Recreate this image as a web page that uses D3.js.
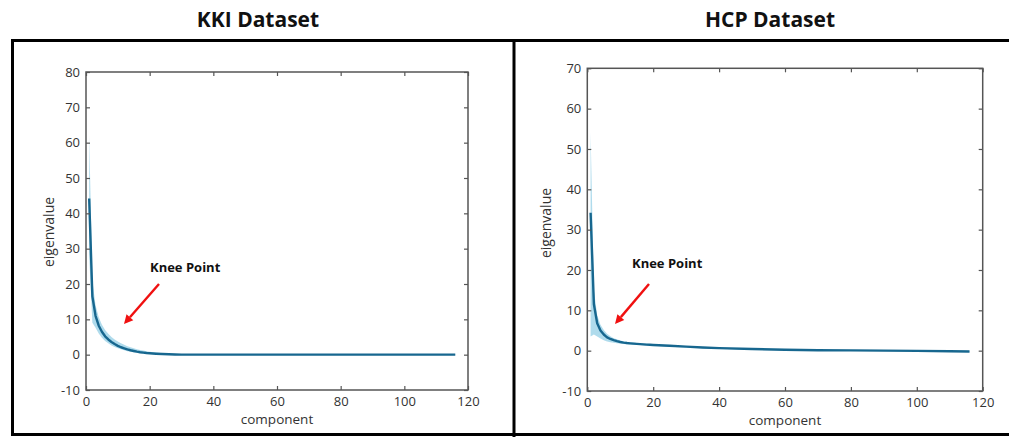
<!DOCTYPE html>
<html>
<head>
<meta charset="utf-8">
<script src="https://cdn.jsdelivr.net/npm/d3@7"></script>
<style>
  html, body { margin: 0; padding: 0; background: #fff; }
  svg { display: block; }
</style>
</head>
<body>
<svg id="chart" width="1009" height="437"></svg>
<script>
// Eigenvalue spectra (mean with spread band) per component, two datasets.
const kkiComponents = [1,2,3,4,5,6,7,8,9,10,11,12,13,14,15,16,17,18,19,20,22,24,26,28,30,40,50,60,70,80,90,100,110,116];
const kkiMean  = [44.2,16.5,11.0,8.2,6.5,5.2,4.3,3.6,3.0,2.5,2.1,1.8,1.5,1.25,1.05,0.85,0.7,0.58,0.48,0.4,0.27,0.17,0.1,0.05,0.02,0,0,0,0,0,0,0,0,0];
const kkiUpper = [62,21,14,10.6,8.5,7.0,5.9,5.0,4.3,3.7,3.2,2.8,2.4,2.1,1.8,1.55,1.35,1.15,1.0,0.85,0.6,0.42,0.28,0.18,0.12,0.08,0.08,0.08,0.08,0.08,0.08,0.08,0.08,0.08];
const kkiLower = [28,9,7.6,6.0,4.8,3.9,3.2,2.6,2.2,1.8,1.5,1.25,1.0,0.85,0.7,0.55,0.45,0.35,0.28,0.22,0.13,0.07,0.03,0.01,0,-0.08,-0.08,-0.08,-0.08,-0.08,-0.08,-0.08,-0.08,-0.08];

const hcpComponents = [1,2,3,4,5,6,7,8,9,10,11,12,13,14,15,16,17,18,19,20,25,30,35,40,50,60,70,80,90,100,110,116];
const hcpMean  = [34.2,11.5,6.8,5.0,4.0,3.3,2.9,2.6,2.35,2.15,2.0,1.9,1.82,1.75,1.68,1.62,1.56,1.5,1.45,1.4,1.2,1.0,0.8,0.62,0.4,0.22,0.12,0.06,0.02,-0.05,-0.15,-0.2];
const hcpUpper = [54,15,8.8,6.4,5.1,4.2,3.6,3.1,2.8,2.55,2.35,2.2,2.1,2.0,1.92,1.84,1.76,1.7,1.64,1.58,1.35,1.12,0.92,0.72,0.5,0.3,0.18,0.1,0.06,0.0,-0.1,-0.15];
const hcpLower = [3.5,4.0,3.5,3.0,2.6,2.3,2.1,1.95,1.85,1.75,1.65,1.58,1.52,1.47,1.42,1.38,1.34,1.3,1.26,1.22,1.0,0.8,0.6,0.45,0.25,0.1,0.03,0,-0.03,-0.1,-0.2,-0.25];

const xTicks = [0,20,40,60,80,100,120];
const kkiYTicks = [-10,0,10,20,30,40,50,60,70,80];
const hcpYTicks = [-10,0,10,20,30,40,50,60,70];

const svg = d3.select("#chart");

// outer frame with divider between the two panels
svg.append("rect")
  .attr("x", 12.5).attr("y", 40.5)
  .attr("width", 1020).attr("height", 394)
  .attr("fill", "none").attr("stroke", "#000").attr("stroke-width", 3);
svg.append("line")
  .attr("x1", 514).attr("x2", 514).attr("y1", 40).attr("y2", 437)
  .attr("stroke", "#000").attr("stroke-width", 3);

function drawPanel(p) {
  const x = d3.scaleLinear().domain([0, 120]).range([p.left, p.right]);
  const y = d3.scaleLinear().domain([p.yTicks[0], p.yTicks[p.yTicks.length - 1]]).range([p.bottom, p.top]);
  const g = svg.append("g");

  // title
  svg.append("text")
    .attr("x", p.titleX).attr("y", 27)
    .attr("text-anchor", "middle")
    .attr("font-family", "Open Sans, sans-serif")
    .attr("font-weight", "bold").attr("font-size", 21)
    .attr("fill", "#111")
    .text(p.title);

  const rows = p.comps.map((c, i) => ({ c, m: p.mean[i], u: p.upper[i], l: p.lower[i] }));

  // spread band
  g.append("path")
    .datum(rows)
    .attr("fill", "#a6d7ea").attr("opacity", 0.9)
    .attr("d", d3.area().x(d => x(d.c)).y0(d => y(d.l)).y1(d => y(d.u)));

  // mean curve
  g.append("path")
    .datum(rows)
    .attr("fill", "none").attr("stroke", "#17678f").attr("stroke-width", 2.4)
    .attr("stroke-linejoin", "round")
    .attr("d", d3.line().x(d => x(d.c)).y(d => y(d.m)));

  const tickStyle = sel => {
    sel.select(".domain").remove();
    sel.selectAll(".tick line").attr("stroke", "#555").attr("stroke-width", 1.2);
    sel.selectAll(".tick text")
      .attr("font-family", "Open Sans, sans-serif").attr("font-size", 13).attr("fill", "#333");
  };

  g.append("g").attr("transform", `translate(0,${p.bottom})`)
    .call(d3.axisBottom(x).tickValues(xTicks).tickSize(-4).tickPadding(6.5).tickFormat(d3.format("d")))
    .call(tickStyle);
  g.append("g").attr("transform", `translate(0,${p.top})`)
    .call(d3.axisTop(x).tickValues(xTicks).tickSize(-4).tickFormat(""))
    .call(tickStyle);
  g.append("g").attr("transform", `translate(${p.left},0)`)
    .call(d3.axisLeft(y).tickValues(p.yTicks).tickSize(-4).tickPadding(6).tickFormat(d => d < 0 ? "-" + Math.abs(d) : d))
    .call(tickStyle);
  g.append("g").attr("transform", `translate(${p.right},0)`)
    .call(d3.axisRight(y).tickValues(p.yTicks).tickSize(-4).tickFormat(""))
    .call(tickStyle);

  // plot frame
  g.append("rect")
    .attr("x", p.left).attr("y", p.top)
    .attr("width", p.right - p.left).attr("height", p.bottom - p.top)
    .attr("fill", "none").attr("stroke", "#555").attr("stroke-width", 1.5);

  // axis titles
  g.append("text")
    .attr("x", (p.left + p.right) / 2).attr("y", p.bottom + 33.5)
    .attr("text-anchor", "middle")
    .attr("font-family", "Open Sans, sans-serif").attr("font-size", 13.5).attr("fill", "#333")
    .text("component");
  g.append("text")
    .attr("transform", `translate(${p.yLabelX},${p.yLabelY}) rotate(-90)`)
    .attr("text-anchor", "middle")
    .attr("font-family", "Open Sans, sans-serif").attr("font-size", 14).attr("fill", "#333")
    .text("eigenvalue");

  // knee annotation
  g.append("text")
    .attr("x", p.kneeText[0]).attr("y", p.kneeText[1])
    .attr("font-family", "Open Sans, sans-serif").attr("font-weight", "bold").attr("font-size", 13)
    .attr("fill", "#111")
    .text("Knee Point");
  const [x1, y1, x2, y2] = p.arrow;
  const ang = Math.atan2(y2 - y1, x2 - x1);
  const hl = 9, hw = 4.5;
  const bx = x2 - hl * Math.cos(ang), by = y2 - hl * Math.sin(ang);
  g.append("line")
    .attr("x1", x1).attr("y1", y1).attr("x2", bx).attr("y2", by)
    .attr("stroke", "#f01010").attr("stroke-width", 2.4);
  g.append("path")
    .attr("d", `M${x2},${y2}L${bx - hw * Math.sin(ang)},${by + hw * Math.cos(ang)}L${bx + hw * Math.sin(ang)},${by - hw * Math.cos(ang)}Z`)
    .attr("fill", "#f01010");
}

drawPanel({
  title: "KKI Dataset", titleX: 258,
  left: 86, right: 468, top: 72, bottom: 390,
  yTicks: kkiYTicks,
  comps: kkiComponents, mean: kkiMean, upper: kkiUpper, lower: kkiLower,
  yLabelX: 54, yLabelY: 232,
  kneeText: [150, 272], arrow: [159, 284, 124, 324]
});

drawPanel({
  title: "HCP Dataset", titleX: 770,
  left: 587.3, right: 982.7, top: 68.3, bottom: 391,
  yTicks: hcpYTicks,
  comps: hcpComponents, mean: hcpMean, upper: hcpUpper, lower: hcpLower,
  yLabelX: 551, yLabelY: 223,
  kneeText: [632, 268], arrow: [649, 284, 615, 324]
});
</script>
</body>
</html>
